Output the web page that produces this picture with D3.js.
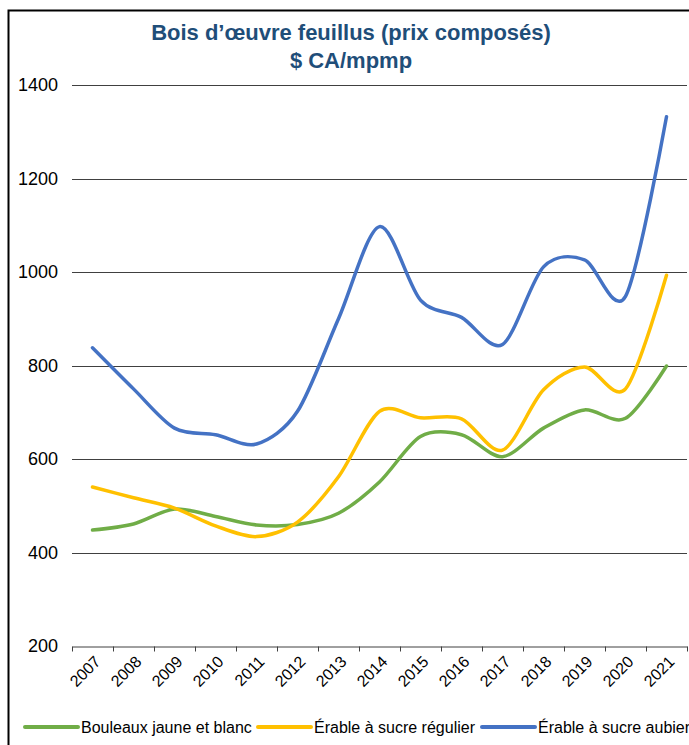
<!DOCTYPE html>
<html>
<head>
<meta charset="utf-8">
<script src="https://cdn.jsdelivr.net/npm/d3@7"></script>
<style>
	body { margin: 0; background: #fff; }
	svg text { font-family: "Liberation Sans", Arial, sans-serif; }
</style>
</head>
<body>
<svg id="chart" width="689" height="745"></svg>
<script>
var years = ["2007", "2008", "2009", "2010", "2011", "2012", "2013", "2014", "2015", "2016", "2017", "2018", "2019", "2020", "2021"];
var bouleaux = [448, 461, 493, 477, 459, 460, 484, 551, 648, 652, 605, 666, 705, 687, 799];
var erableRegulier = [540, 517, 495, 457, 434, 465, 562, 702, 688, 686, 619, 748, 797, 750, 993];
var erableAubier = [838, 750, 666, 652, 632, 702, 900, 1097, 940, 903, 845, 1011, 1026, 948, 1332];
var seriesNames = ["Bouleaux jaune et blanc", "Érable à sucre régulier", "Érable à sucre aubier"];
var seriesColors = ["#70AD47", "#FFC000", "#4472C4"];
var yTicks = [200, 400, 600, 800, 1000, 1200, 1400];
var titleLines = ["Bois d\u2019\u0153uvre feuillus (prix composés)", "$ CA/mpmp"];

(function(){
	var width = 689, height = 745;
	var margin = {top: 85, right: 2, bottom: 99, left: 72};

	var svg = d3.select("#chart");

	// frame round the chart
	svg.append("rect")
		.attr("x", 8.5).attr("y", 10.5)
		.attr("width", width + 10).attr("height", height + 10)
		.style("fill", "none")
		.style("stroke", "#000")
		.style("stroke-width", 2);

	var x = d3.scaleBand().domain(years).range([margin.left, width - margin.right]);
	var y = d3.scaleLinear().domain([200, 1400]).range([height - margin.bottom, margin.top]);

	// title
	svg.selectAll(".title").data(titleLines).enter().append("text")
		.attr("x", 351)
		.attr("y", function(d, i) { return 40 + i * 28; })
		.attr("text-anchor", "middle")
		.style("font-size", "22px")
		.style("font-weight", "bold")
		.style("fill", "#1F4E79")
		.text(function(d) { return d; });

	// gridlines
	svg.append("g").selectAll("line").data(yTicks.slice(1)).enter().append("line")
		.attr("x1", margin.left).attr("x2", width - margin.right)
		.attr("y1", function(d) { return Math.round(y(d)) + 0.5; })
		.attr("y2", function(d) { return Math.round(y(d)) + 0.5; })
		.style("stroke", "#404040");

	// y axis labels
	var yAxis = svg.append("g")
		.attr("transform", "translate(" + (margin.left - 14) + ",0)")
		.call(d3.axisLeft(y).tickValues(yTicks).tickFormat(d3.format("d")).tickSize(0).tickPadding(0));
	yAxis.select(".domain").remove();
	yAxis.selectAll("text").style("font-size", "18px").style("fill", "#000");

	// x axis
	var xAxis = svg.append("g")
		.attr("transform", "translate(0," + (Math.round(y(200)) + 0.5) + ")")
		.call(d3.axisBottom(x).tickSize(0));
	xAxis.select(".domain").style("stroke", "#404040");
	xAxis.selectAll(".tick line").remove();
	xAxis.selectAll(".tick text")
		.style("font-size", "16px")
		.style("fill", "#000")
		.attr("text-anchor", "end")
		.attr("dy", 0)
		.attr("transform", "translate(7,14) rotate(-45)");
	var bounds = years.map(function(d) { return x(d); }).concat([width - margin.right]);
	xAxis.append("g").selectAll("line").data(bounds).enter().append("line")
		.attr("x1", function(d) { return Math.round(d) + 0.5; })
		.attr("x2", function(d) { return Math.round(d) + 0.5; })
		.attr("y1", 0).attr("y2", 5)
		.style("stroke", "#404040");

	// series
	var allSeries = [bouleaux, erableRegulier, erableAubier];
	var line = d3.line()
		.x(function(d, i) { return x(years[i]) + x.bandwidth() / 2; })
		.y(function(d) { return y(d); })
		.curve(d3.curveCardinal.tension(0.1));

	svg.append("g").selectAll("path").data(allSeries).enter().append("path")
		.attr("d", line)
		.style("fill", "none")
		.style("stroke", function(d, i) { return seriesColors[i]; })
		.style("stroke-width", 3.5)
		.style("stroke-linecap", "round");

	// legend
	var legendX = [25, 258, 482];
	var legend = svg.append("g").selectAll("g").data(seriesNames).enter().append("g")
		.attr("transform", function(d, i) { return "translate(" + legendX[i] + ",727)"; });
	legend.append("line")
		.attr("x1", 0).attr("x2", 53)
		.style("stroke", function(d, i) { return seriesColors[i]; })
		.style("stroke-width", 4)
		.style("stroke-linecap", "round");
	legend.append("text")
		.attr("x", 56).attr("y", 6)
		.style("font-size", "16px")
		.text(function(d) { return d; });
})();
</script>
</body>
</html>
